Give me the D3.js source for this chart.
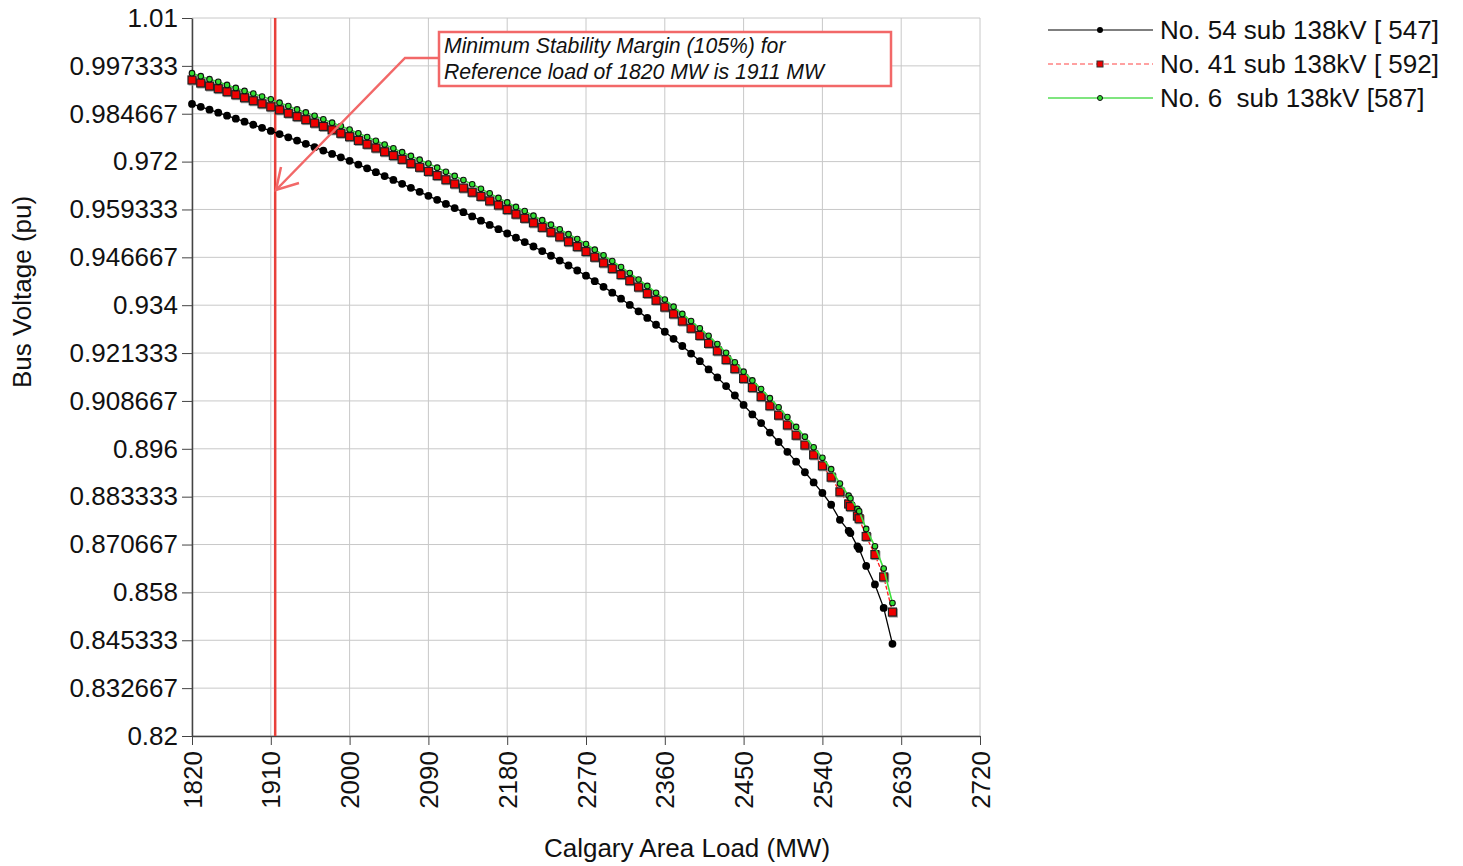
<!DOCTYPE html>
<html><head><meta charset="utf-8">
<script src="https://cdn.jsdelivr.net/npm/d3@7"></script>
<style>
html,body{margin:0;padding:0;background:#fff;}
svg{display:block;font-family:Arial,"Liberation Sans",sans-serif;}
</style></head><body>
<svg id="chart" width="1463" height="866"></svg>
<script>
const loads = [1820,1830,1840,1850,1860,1870,1880,1890,1900,1910,
 1920,1930,1940,1950,1960,1970,1980,1990,2000,2010,
 2020,2030,2040,2050,2060,2070,2080,2090,2100,2110,
 2120,2130,2140,2150,2160,2170,2180,2190,2200,2210,
 2220,2230,2240,2250,2260,2270,2280,2290,2300,2310,
 2320,2330,2340,2350,2360,2370,2380,2390,2400,2410,
 2420,2430,2440,2450,2460,2470,2480,2490,2500,2510,
 2520,2530,2540,2550,2560,2570,2572,2580,2582,2590,
 2600,2610,2620];
const sub54 = [0.98725,0.98650,0.98573,0.98495,0.98416,0.98336,0.98256,0.98175,0.98094,0.98012,
 0.97928,0.97843,0.97757,0.97670,0.97582,0.97493,0.97403,0.97312,0.97220,0.97121,
 0.97021,0.96920,0.96818,0.96715,0.96611,0.96506,0.96401,0.96295,0.96188,0.96080,
 0.95971,0.95861,0.95750,0.95638,0.95525,0.95412,0.95298,0.95186,0.95071,0.94953,
 0.94832,0.94708,0.94581,0.94451,0.94318,0.94182,0.94037,0.93887,0.93732,0.93572,
 0.93407,0.93237,0.93062,0.92882,0.92697,0.92510,0.92320,0.92120,0.91920,0.91700,
 0.91490,0.91260,0.91010,0.90760,0.90510,0.90280,0.90030,0.89780,0.89520,0.89260,
 0.88980,0.88710,0.88430,0.88120,0.87720,0.87430,0.87370,0.87020,0.86950,0.86500,
 0.86010,0.85390,0.84440];
const sub41 = [0.9936,0.9928,0.9920,0.9913,0.9905,0.9897,0.9889,0.9881,0.9873,0.9865,
 0.9857,0.9848,0.9839,0.9831,0.9822,0.9813,0.9804,0.9795,0.9786,0.9776,
 0.9766,0.9756,0.9746,0.9736,0.9726,0.9715,0.9705,0.9694,0.9683,0.9672,
 0.9661,0.9650,0.9639,0.9628,0.9616,0.9605,0.9593,0.9581,0.9570,0.9558,
 0.9546,0.9533,0.9521,0.9508,0.9495,0.9482,0.9467,0.9452,0.9437,0.9421,
 0.9405,0.9388,0.9371,0.9353,0.9335,0.9317,0.9298,0.9279,0.9260,0.9239,
 0.9219,0.9196,0.9172,0.9146,0.9122,0.9098,0.9074,0.9049,0.9023,0.8996,
 0.8970,0.8944,0.8915,0.8885,0.8846,0.8814,0.8807,0.8782,0.8775,0.8728,
 0.8680,0.8621,0.8528];
const sub6 = [0.9954,0.9946,0.9938,0.9931,0.9923,0.9915,0.9907,0.9900,0.9892,0.9885,
 0.9876,0.9867,0.9858,0.9850,0.9841,0.9832,0.9823,0.9814,0.9805,0.9795,
 0.9785,0.9775,0.9765,0.9755,0.9745,0.9735,0.9725,0.9715,0.9704,0.9693,
 0.9682,0.9671,0.9660,0.9648,0.9636,0.9624,0.9612,0.9600,0.9589,0.9577,
 0.9565,0.9553,0.9541,0.9528,0.9515,0.9502,0.9487,0.9472,0.9457,0.9441,
 0.9425,0.9408,0.9391,0.9373,0.9355,0.9336,0.9317,0.9298,0.9279,0.9259,
 0.9237,0.9214,0.9189,0.9164,0.9141,0.9118,0.9094,0.9070,0.9044,0.9018,
 0.8992,0.8964,0.8936,0.8906,0.8868,0.8836,0.8829,0.8801,0.8795,0.8748,
 0.8702,0.8643,0.8552];
const seriesNames = ["No. 54 sub 138kV [ 547]", "No. 41 sub 138kV [ 592]", "No. 6  sub 138kV [587]"];
const xTicks = [1820,1910,2000,2090,2180,2270,2360,2450,2540,2630,2720];
const yTickLabels = ["0.82","0.832667","0.845333","0.858","0.870667","0.883333","0.896","0.908667",
 "0.921333","0.934","0.946667","0.959333","0.972","0.984667","0.997333","1.01"];
const marginLoad = 1915;
const noteLines = ["Minimum Stability Margin (105%) for", "Reference load of 1820 MW is 1911 MW"];
const xTitle = "Calgary Area Load (MW)";
const yTitle = "Bus Voltage (pu)";

const svg = d3.select("#chart");
const L = 192, R = 980, T = 18, B = 736;
const x = d3.scaleLinear().domain([1820, 2720]).range([L, R]);
const y = d3.scaleLinear().domain([0.82, 1.01]).range([B, T]);
const yTicks = yTickLabels.map(Number);

// grid
const grid = svg.append("g");
grid.selectAll("line.v").data(xTicks).enter().append("line")
  .attr("x1", d => x(d)).attr("x2", d => x(d)).attr("y1", T).attr("y2", B)
  .attr("stroke", "#c8c8c8").attr("stroke-width", 1);
grid.selectAll("line.h").data(yTicks).enter().append("line")
  .attr("x1", L).attr("x2", R).attr("y1", d => y(d)).attr("y2", d => y(d))
  .attr("stroke", "#c8c8c8").attr("stroke-width", 1);

// axes
const xAxis = d3.axisBottom(x).tickValues(xTicks).tickSize(9).tickSizeOuter(0).tickFormat(d3.format("d"));
const gx = svg.append("g").attr("transform", `translate(0,${B})`).call(xAxis);
gx.select(".domain").attr("stroke", "#444").attr("stroke-width", 1.5);
gx.selectAll(".tick line").attr("stroke", "#444");
gx.selectAll(".tick text")
  .attr("font-size", 26).attr("fill", "#111")
  .attr("transform", "rotate(-90)")
  .attr("text-anchor", "end")
  .attr("x", -15).attr("y", 0).attr("dy", "0.35em");

const yAxis = d3.axisLeft(y).tickValues(yTicks).tickSize(10).tickSizeOuter(0)
  .tickFormat((d, i) => yTickLabels[i]);
const gy = svg.append("g").attr("transform", `translate(${L},0)`).call(yAxis);
gy.select(".domain").attr("stroke", "#444").attr("stroke-width", 1.5);
gy.selectAll(".tick line").attr("stroke", "#444");
gy.selectAll(".tick text").attr("font-size", 26).attr("fill", "#111").attr("x", -14);

// axis titles
svg.append("text").attr("x", 687).attr("y", 857).attr("text-anchor", "middle")
  .attr("font-size", 26).attr("fill", "#111").text(xTitle);
svg.append("text").attr("transform", "translate(31,292) rotate(-90)").attr("text-anchor", "middle")
  .attr("font-size", 26).attr("fill", "#111").text(yTitle);

// margin line
svg.append("line").attr("x1", x(marginLoad)).attr("x2", x(marginLoad)).attr("y1", T).attr("y2", B)
  .attr("stroke", "#e8403a").attr("stroke-width", 2.5);

// series
const mk = vals => loads.map((l, i) => ({x: l, y: vals[i]}));
const line = d3.line().x(d => x(d.x)).y(d => y(d.y));
const d54 = mk(sub54), d41 = mk(sub41), d6 = mk(sub6);

svg.append("path").datum(d54).attr("d", line).attr("fill", "none").attr("stroke", "#000").attr("stroke-width", 1.3);
svg.selectAll("circle.s54").data(d54).enter().append("circle")
  .attr("cx", d => x(d.x)).attr("cy", d => y(d.y)).attr("r", 3.9).attr("fill", "#000");

svg.append("path").datum(d41).attr("d", line).attr("fill", "none").attr("stroke", "#ff1a1a").attr("stroke-width", 1.3)
  .attr("stroke-dasharray", "4,2");
svg.selectAll("rect.s41sh").data(d41).enter().append("rect")
  .attr("x", d => x(d.x) - 3.5).attr("y", d => y(d.y) - 3.5).attr("width", 9).attr("height", 9)
  .attr("fill", "#9a9a9a");
svg.selectAll("rect.s41").data(d41).enter().append("rect")
  .attr("x", d => x(d.x) - 4).attr("y", d => y(d.y) - 4).attr("width", 8).attr("height", 8)
  .attr("fill", "#ee0000").attr("stroke", "#222").attr("stroke-width", 1.2);

svg.append("path").datum(d6).attr("d", line).attr("fill", "none").attr("stroke", "#3ee03e").attr("stroke-width", 1.6);
svg.selectAll("circle.s6").data(d6).enter().append("circle")
  .attr("cx", d => x(d.x)).attr("cy", d => y(d.y)).attr("r", 2.8)
  .attr("fill", "#33dd33").attr("stroke", "#111").attr("stroke-width", 1.1);

// annotation box and arrow
const note = svg.append("g");
note.append("rect").attr("x", 439).attr("y", 32).attr("width", 452).attr("height", 54)
  .attr("fill", "#fff").attr("stroke", "#f26868").attr("stroke-width", 2.5);
noteLines.forEach((t, i) => note.append("text").attr("x", 444).attr("y", 53 + i * 26)
  .attr("font-size", 21.2).attr("font-style", "italic").attr("fill", "#111").text(t));
note.append("polyline").attr("points", "439,58 405,58 276,190").attr("fill", "none")
  .attr("stroke", "#f26868").attr("stroke-width", 2.5);
note.append("polyline").attr("points", "299,183 276,190 281,167").attr("fill", "none")
  .attr("stroke", "#f26868").attr("stroke-width", 2.5);

// legend
const legend = svg.append("g");
const rows = [30, 64, 98];
legend.append("line").attr("x1", 1048).attr("x2", 1153).attr("y1", rows[0]).attr("y2", rows[0]).attr("stroke", "#000").attr("stroke-width", 1.2);
legend.append("circle").attr("cx", 1100).attr("cy", rows[0]).attr("r", 3).attr("fill", "#000");
legend.append("line").attr("x1", 1048).attr("x2", 1153).attr("y1", rows[1]).attr("y2", rows[1]).attr("stroke", "#ff4444").attr("stroke-width", 1.2).attr("stroke-dasharray", "5,3");
legend.append("rect").attr("x", 1097).attr("y", rows[1] - 3).attr("width", 6).attr("height", 6).attr("fill", "#ee0000").attr("stroke", "#333");
legend.append("line").attr("x1", 1048).attr("x2", 1153).attr("y1", rows[2]).attr("y2", rows[2]).attr("stroke", "#55dd55").attr("stroke-width", 1.5);
legend.append("circle").attr("cx", 1100).attr("cy", rows[2]).attr("r", 2.5).attr("fill", "#33dd33").attr("stroke", "#111");
seriesNames.forEach((n, i) => legend.append("text").attr("x", 1160).attr("y", rows[i]).attr("dy", "0.35em")
  .attr("font-size", 26).attr("fill", "#111").attr("xml:space", "preserve").style("white-space", "pre").text(n));
</script>
</body></html>
